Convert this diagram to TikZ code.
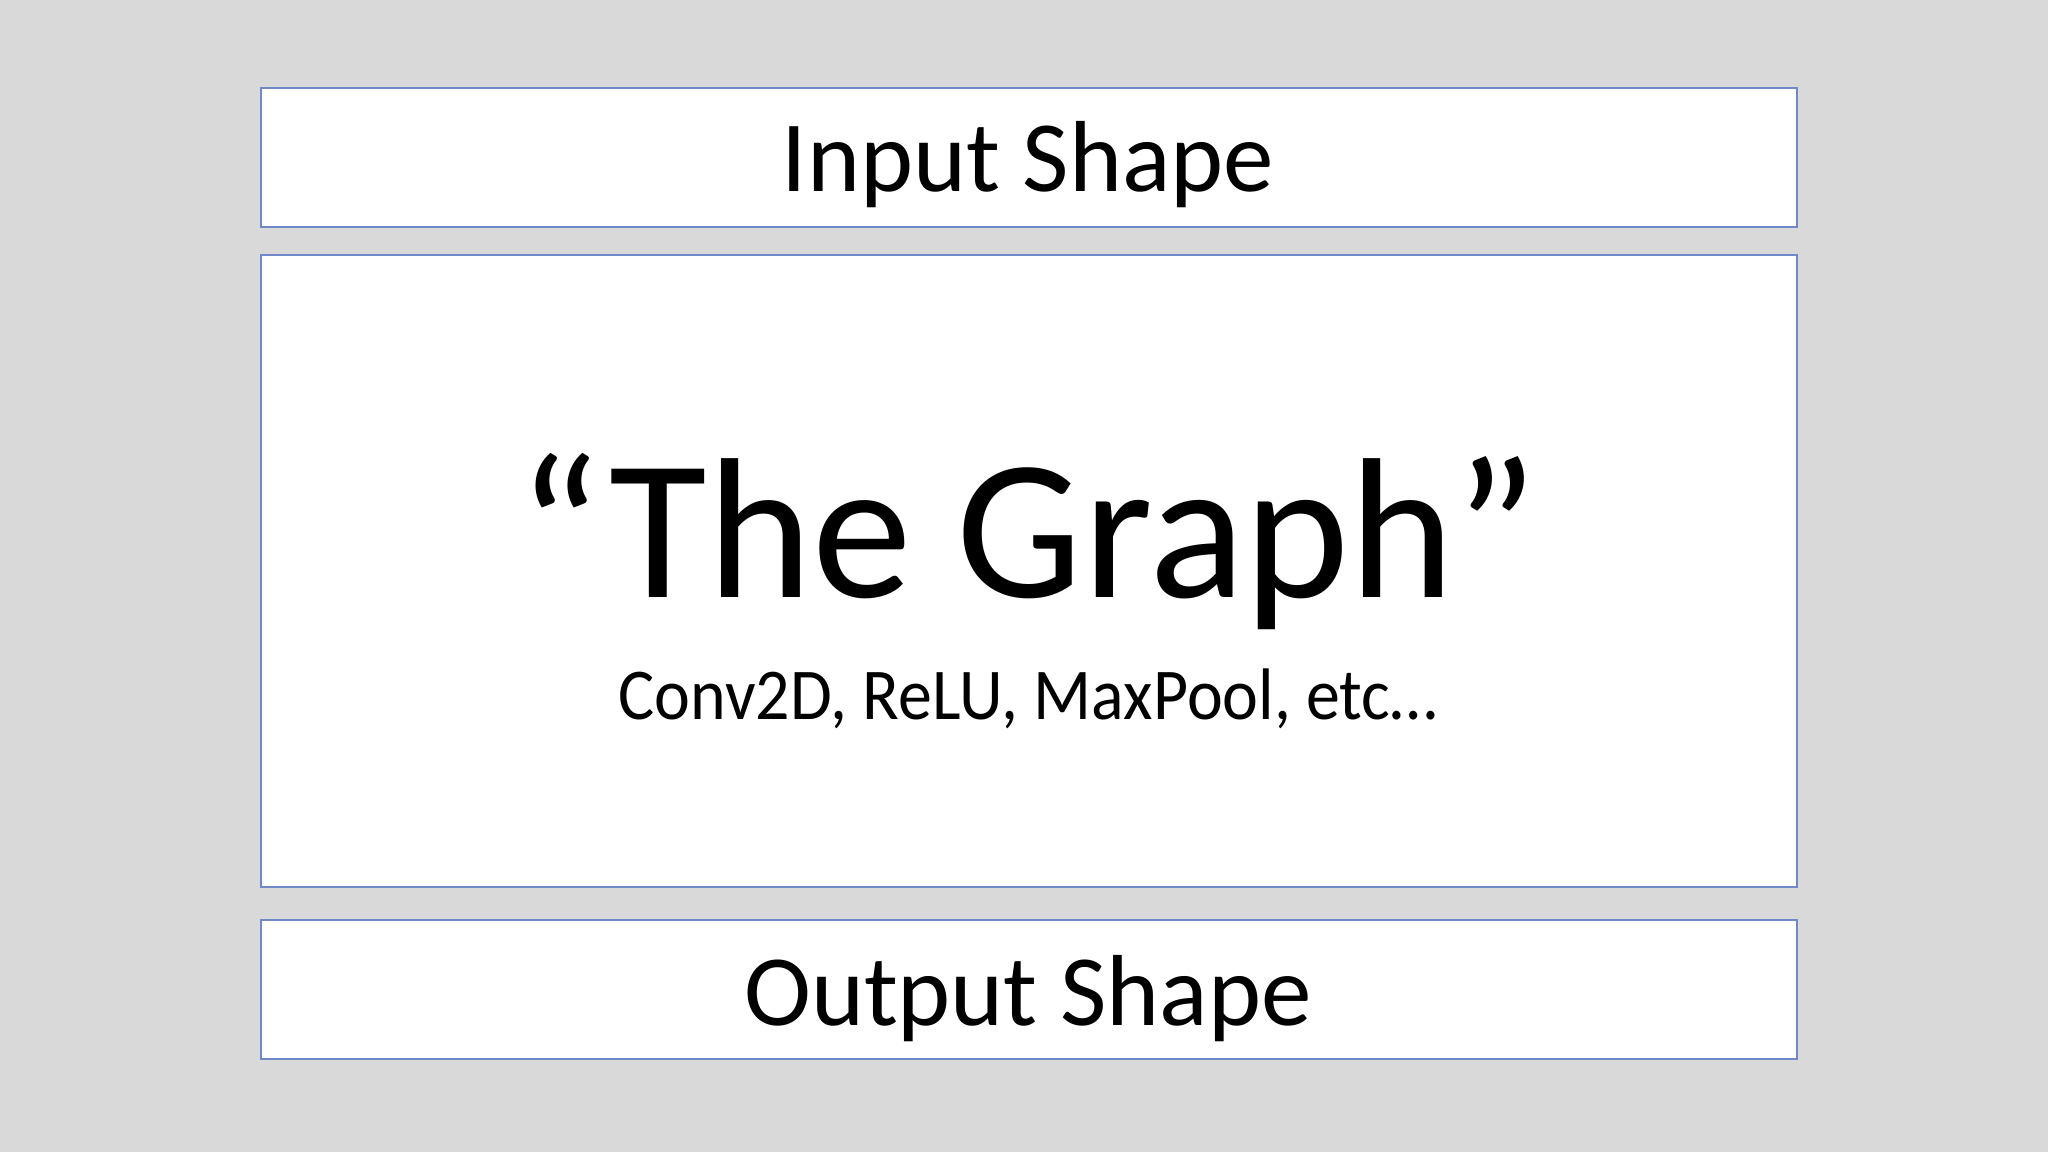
\documentclass[tikz,border=0pt]{standalone}
\usepackage{fontspec}
\setmainfont{Carlito}
\definecolor{bg}{RGB}{217,217,217}
\definecolor{edge}{RGB}{114,137,201}
\tikzset{
  panel/.style={draw=edge, line width=1.5pt, fill=white, rectangle, inner sep=0pt, outer sep=0pt, minimum width=1536pt},
  label/.style={anchor=base, inner sep=0pt, text=black}
}
\begin{document}
\begin{tikzpicture}[x=1pt,y=1pt]
\fill[bg] (0,0) rectangle (2048,1152);
\useasboundingbox (0,0) rectangle (2048,1152);
\node[panel, minimum height=139pt] (inbox) at (1029,{1152-157.5}) {};
\node[panel, minimum height=632pt] (graphbox) at (1029,{1152-571}) {};
\node[panel, minimum height=139pt] (outbox) at (1029,{1152-989.5}) {};
\node[label, font=\fontsize{101}{110}\selectfont] (intext) at (1028,{1152-192}) {Input Shape};
\node[label, font=\fontsize{200}{215}\selectfont] (graphtext) at (1028,{1152-598}) {“The Graph”};
\node[label, font=\fontsize{73}{80}\selectfont, xscale=0.93] (opstext) at (1028,{1152-720}) {Conv2D, ReLU, MaxPool, etc…};
\node[label, font=\fontsize{101}{110}\selectfont] (outtext) at (1028,{1152-1025}) {Output Shape};
\end{tikzpicture}
\end{document}
